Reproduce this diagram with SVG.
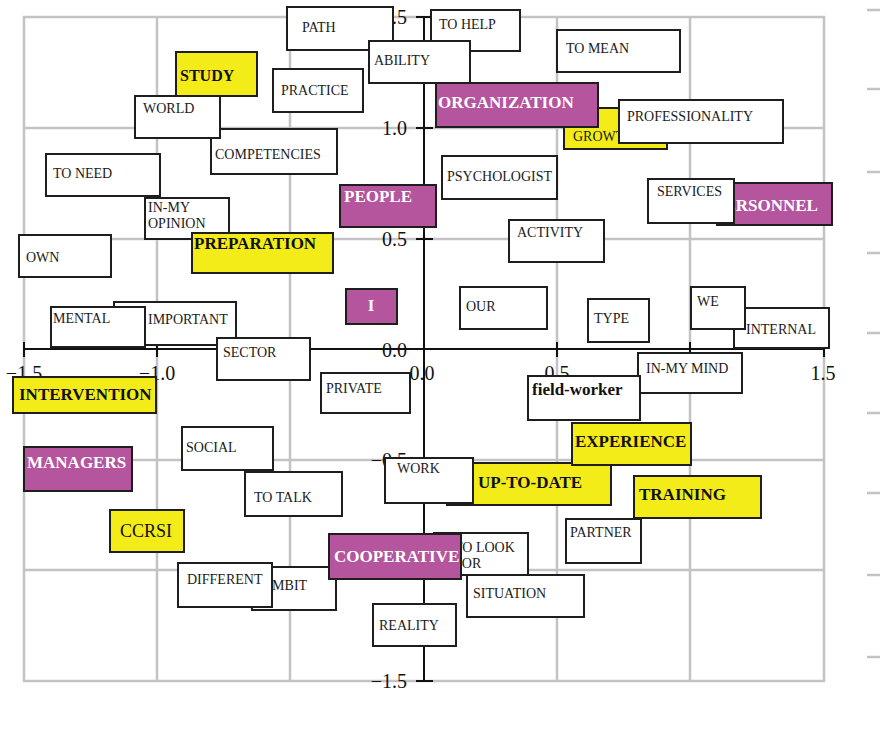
<svg xmlns="http://www.w3.org/2000/svg" width="880" height="735" viewBox="0 0 880 735">
<style>
.g{stroke:#c3c3c7;stroke-width:2.5;fill:none}
.ax{stroke:#111;stroke-width:2;fill:none}
.al{font-family:"Liberation Serif",serif;font-size:20px;fill:#111}
.bx{stroke:#1e1e1e;stroke-width:2}
.w{fill:#fff}
.y{fill:#f3ec19}
.p{fill:#b4559e}
text{font-family:"Liberation Serif","Times New Roman",serif}
.t{font-size:14px;fill:#1a1a1a}
.tb{font-size:17px;font-weight:bold;fill:#111}
.tw{font-size:17px;font-weight:bold;fill:#fff}
</style>
<rect x="0" y="0" width="880" height="735" fill="#fff"/>
<g id="grid">
<rect x="24" y="17" width="800" height="664" class="g"/>
<path class="g" d="M157 17V681M290 17V681M557 17V681M690 17V681M24 128H824M24 239H824M24 460H824M24 570H824"/>
<path class="g" d="M867 10H880M867 89H880M867 172H880M867 253H880M867 333H880M867 413H880M867 493H880M867 575H880M867 657H880"/>
</g>
<g id="axes">
<path class="ax" d="M424 17V681M24 349H824"/>
<path class="ax" d="M416 17H433M416 128H433M416 239H433M416 349H433M416 460H433M416 570H433M416 681H433"/>
<path class="ax" d="M24 342V357M157 342V357M290 342V357M557 342V357M690 342V357M824 342V357"/>
<g class="al" text-anchor="end">
<text x="407" y="24">1.5</text>
<text x="407" y="135">1.0</text>
<text x="407" y="246">0.5</text>
<text x="407" y="357">0.0</text>
<text x="407" y="467">−0.5</text>
<text x="407" y="688">−1.5</text>
</g>
<g class="al" text-anchor="middle">
<text x="24" y="380">−1.5</text>
<text x="157" y="380">−1.0</text>
<text x="422" y="380">0.0</text>
<text x="557" y="380">0.5</text>
<text x="823" y="380">1.5</text>
</g>
</g>
<g id="connectors"></g>
<g id="path"><rect class="bx w" x="287" y="7" width="106" height="43"/><text class="t" x="302" y="32">PATH</text></g>
<g id="to-help"><rect class="bx w" x="431" y="10" width="89" height="41"/><text class="t" x="439" y="29">TO HELP</text></g>
<g id="ability"><rect class="bx w" x="369" y="41" width="101" height="42"/><text class="t" x="374" y="65">ABILITY</text></g>
<g id="practice"><rect class="bx w" x="273" y="69" width="90" height="43"/><text class="t" x="281" y="95">PRACTICE</text></g>
<g id="to-mean"><rect class="bx w" x="557" y="30" width="123" height="42"/><text class="t" x="566" y="53">TO MEAN</text></g>
<g id="growth"><rect class="bx y" x="564" y="108" width="103" height="41"/><text class="t" x="573" y="141">GROWTH</text></g>
<g id="organization"><rect class="bx p" x="436" y="83" width="162" height="44"/><text class="tw" x="438" y="108">ORGANIZATION</text></g>
<g id="professionality"><rect class="bx w" x="619" y="100" width="164" height="43"/><text class="t" x="627" y="121">PROFESSIONALITY</text></g>
<g id="study"><rect class="bx y" x="176" y="52" width="81" height="44"/><text class="tb" x="180" y="81" style="font-size:16px">STUDY</text></g>
<g id="competencies"><rect class="bx w" x="211" y="129" width="126" height="45"/><text class="t" x="215" y="159">COMPETENCIES</text></g>
<g id="world"><rect class="bx w" x="135" y="96" width="85" height="42"/><text class="t" x="143" y="113">WORLD</text></g>
<g id="to-need"><rect class="bx w" x="46" y="154" width="114" height="42"/><text class="t" x="53" y="178">TO NEED</text></g>
<g id="in-my-opinion"><rect class="bx w" x="145" y="198" width="84" height="41"/><text class="t" x="148" y="212">IN-MY</text><text class="t" x="148" y="228">OPINION</text></g>
<g id="preparation"><rect class="bx y" x="192" y="233" width="141" height="40"/><text class="tb" x="194" y="249">PREPARATION</text></g>
<g id="psychologist"><rect class="bx w" x="442" y="156" width="115" height="43"/><text class="t" x="447" y="181">PSYCHOLOGIST</text></g>
<g id="people"><rect class="bx p" x="340" y="185" width="96" height="42"/><text class="tw" x="344" y="202">PEOPLE</text></g>
<g id="activity"><rect class="bx w" x="509" y="220" width="95" height="42"/><text class="t" x="517" y="237">ACTIVITY</text></g>
<g id="personnel"><rect class="bx p" x="717" y="183" width="115" height="42"/><text class="tw" x="714" y="211">PERSONNEL</text></g>
<g id="services"><rect class="bx w" x="648" y="179" width="86" height="44"/><text class="t" x="657" y="196">SERVICES</text></g>
<g id="own"><rect class="bx w" x="19" y="235" width="92" height="42"/><text class="t" x="26" y="262">OWN</text></g>
<g id="important"><rect class="bx w" x="114" y="302" width="122" height="43"/><text class="t" x="148" y="324">IMPORTANT</text></g>
<g id="mental"><rect class="bx w" x="51" y="307" width="94" height="40"/><text class="t" x="53" y="323">MENTAL</text></g>
<g id="sector"><rect class="bx w" x="217" y="338" width="93" height="42"/><text class="t" x="223" y="357">SECTOR</text></g>
<g id="i"><rect class="bx p" x="346" y="289" width="51" height="35"/><text class="tw" x="371" y="311" text-anchor="middle">I</text></g>
<g id="our"><rect class="bx w" x="460" y="287" width="87" height="42"/><text class="t" x="466" y="311">OUR</text></g>
<g id="type"><rect class="bx w" x="588" y="299" width="61" height="43"/><text class="t" x="594" y="323">TYPE</text></g>
<g id="internal"><rect class="bx w" x="734" y="308" width="95" height="40"/><text class="t" x="746" y="334">INTERNAL</text></g>
<g id="we"><rect class="bx w" x="691" y="287" width="54" height="42"/><text class="t" x="697" y="306">WE</text></g>
<g id="in-my-mind"><rect class="bx w" x="638" y="353" width="104" height="40"/><text class="t" x="646" y="373">IN-MY MIND</text></g>
<g id="field-worker"><rect class="bx w" x="528" y="376" width="112" height="44"/><text class="tb" x="532" y="395">field-worker</text></g>
<g id="private"><rect class="bx w" x="321" y="373" width="89" height="40"/><text class="t" x="326" y="393">PRIVATE</text></g>
<g id="intervention"><rect class="bx y" x="13" y="377" width="143" height="36"/><text class="tb" x="19" y="400">INTERVENTION</text></g>
<g id="social"><rect class="bx w" x="182" y="427" width="91" height="43"/><text class="t" x="186" y="452">SOCIAL</text></g>
<g id="managers"><rect class="bx p" x="24" y="447" width="108" height="44"/><text class="tw" x="27" y="468">MANAGERS</text></g>
<g id="to-talk"><rect class="bx w" x="245" y="472" width="97" height="44"/><text class="t" x="254" y="502">TO TALK</text></g>
<g id="ccrsi"><rect class="bx y" x="110" y="510" width="74" height="42"/><text x="120" y="537" style="font-size:18px;fill:#111">CCRSI</text></g>
<g id="up-to-date"><rect class="bx y" x="447" y="463" width="164" height="42"/><text class="tb" x="478" y="488">UP-TO-DATE</text></g>
<g id="experience"><rect class="bx y" x="572" y="423" width="119" height="42"/><text class="tb" x="575" y="447">EXPERIENCE</text></g>
<g id="work"><rect class="bx w" x="385" y="458" width="88" height="45"/><text class="t" x="397" y="473">WORK</text></g>
<g id="training"><rect class="bx y" x="634" y="476" width="127" height="42"/><text class="tb" x="639" y="500">TRAINING</text></g>
<g id="partner"><rect class="bx w" x="566" y="519" width="75" height="44"/><text class="t" x="570" y="537">PARTNER</text></g>
<g id="to-look-for"><rect class="bx w" x="434" y="533" width="94" height="42"/><text class="t" x="454" y="552">TO LOOK</text><text class="t" x="454" y="568">FOR</text></g>
<g id="ambit"><rect class="bx w" x="252" y="567" width="84" height="43"/><text class="t" x="262" y="590">AMBIT</text></g>
<g id="different"><rect class="bx w" x="178" y="563" width="94" height="44"/><text class="t" x="187" y="584">DIFFERENT</text></g>
<g id="cooperative"><rect class="bx p" x="329" y="534" width="132" height="45"/><text class="tw" x="334" y="562">COOPERATIVE</text></g>
<g id="situation"><rect class="bx w" x="467" y="575" width="117" height="42"/><text class="t" x="473" y="598">SITUATION</text></g>
<g id="reality"><rect class="bx w" x="373" y="604" width="83" height="42"/><text class="t" x="379" y="630">REALITY</text></g>
</svg>
